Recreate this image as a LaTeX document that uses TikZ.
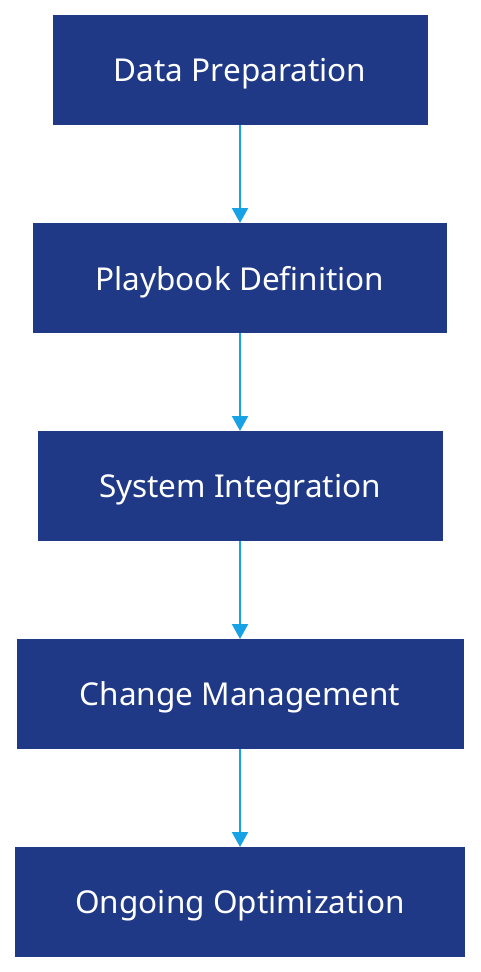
\documentclass[tikz,border=0pt]{standalone}
\usepackage{fontspec}
\setmainfont{Noto Sans}
\usetikzlibrary{arrows.meta, positioning}

\definecolor{stageblue}{RGB}{31,57,135}
\definecolor{flowblue}{RGB}{24,162,230}

\begin{document}
\begin{tikzpicture}[x=1pt, y=1pt,
    stage/.style={shape=rectangle, fill=stageblue, text=white, minimum height=110pt, inner sep=0pt, outer sep=0pt, text depth=0pt, font=\fontsize{31.5}{36}\selectfont},
    flow/.style={draw=flowblue, line width=2pt, -{Triangle[length=15pt, width=16pt]}}]
            \useasboundingbox (0,0) rectangle (480,-972);
            \fill[white] (0,0) rectangle (480,-972);
            %Stages
            \node[stage, minimum width=375pt] (prep) at (240,-70) {Data Preparation};
            \node[stage, minimum width=414pt, below=98pt of prep] (playbook) {Playbook Definition};
            \node[stage, minimum width=405pt, below=98pt of playbook] (integration) {System Integration};
            \node[stage, minimum width=447pt, below=98pt of integration] (change) {Change Management};
            \node[stage, minimum width=450pt, below=98pt of change] (optim) {Ongoing Optimization};
            %Arrows
            \foreach \a/\b in {prep/playbook, playbook/integration, integration/change, change/optim}
                \draw[flow] (\a) -- (\b);
        \end{tikzpicture}
\end{document}
